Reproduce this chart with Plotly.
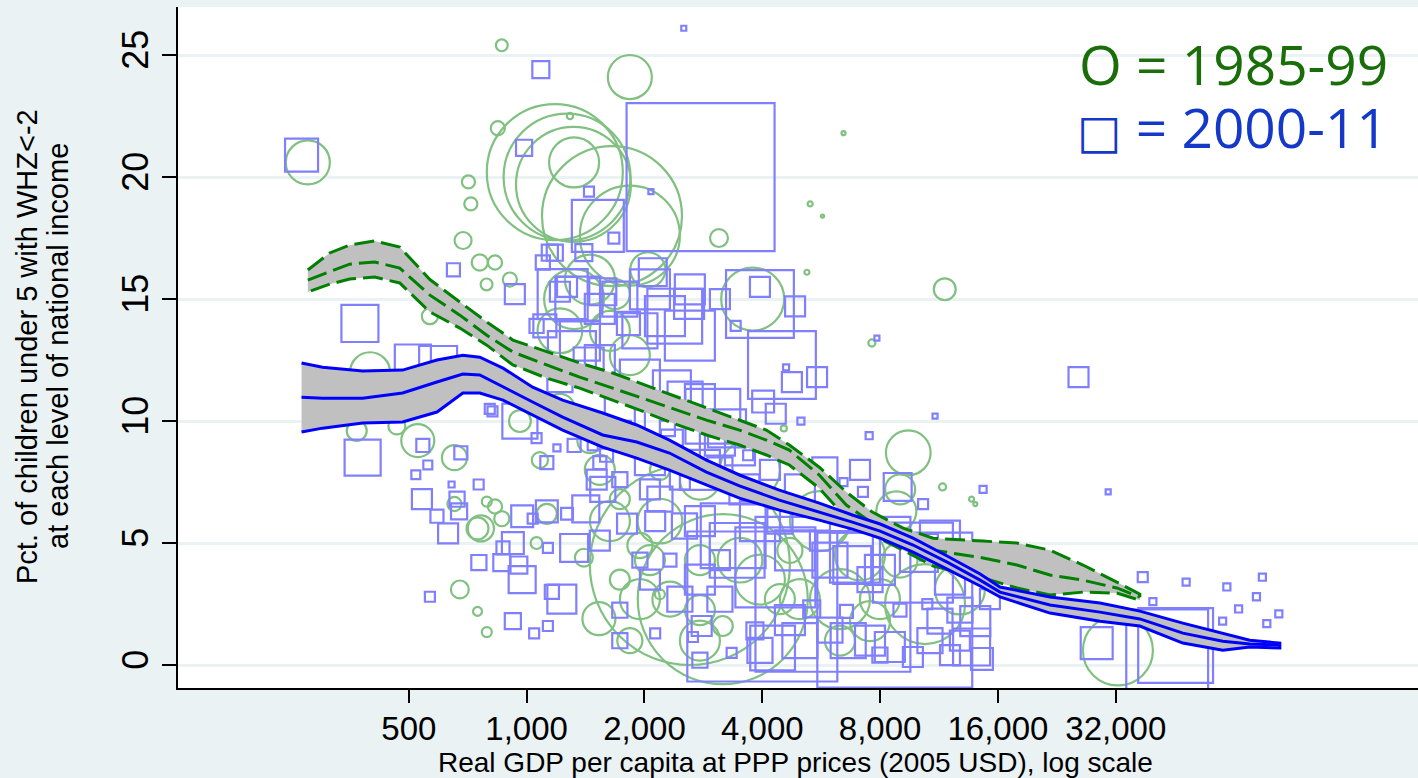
import math
import plotly.graph_objects as go

# ---------------- data ----------------
# 1985-99 surveys (circles): GDP per capita, pct wasted, population weight
c_gdp = [276, 864, 1835, 844, 1290, 710, 720, 688, 1180, 1268, 1317, 1322, 1652, 1835,
         3100, 5300, 5700, 6450, 11700, 3780, 5200, 7620, 9440, 4540, 759, 830, 790, 906,
         566, 398, 368, 466, 527, 654, 654, 749, 675, 749, 791, 791, 830, 864, 764, 1126,
         1060, 1400, 1530, 2612, 3170, 32400, 1322, 1216, 1451, 1632, 1835, 1216, 1451, 961,
         1081, 2190, 2771, 1947, 3719, 5614, 7106, 9000, 11550, 13700, 14000, 10420, 12790,
         2190, 3170, 2771, 3945, 4990, 6316, 7537, 2190, 2771, 1947, 1730, 4705, 2040, 1680,
         1538, 1730, 8800, 1632, 2065, 2323, 1835, 2771, 3507, 4436, 6316, 7990, 8988]
c_pct = [20.6, 25.4, 24.1, 22.0, 22.5, 19.8, 18.9, 17.4, 20.2, 20.0, 19.7, 20.6, 18.4, 17.6,
         17.5, 18.9, 18.4, 21.8, 15.4, 15.0, 16.1, 13.2, 8.7, 9.7, 16.5, 16.5, 15.6, 15.8,
         14.3, 12.0, 9.6, 9.8, 9.2, 8.5, 6.6, 5.6, 3.1, 2.2, 1.35, 6.7, 6.5, 6.0, 5.6, 6.2,
         5.0, 4.4, 1.9, 4.1, 2.7, 0.6, 15.0, 13.7, 15.8, 13.7, 12.7, 10.5, 9.2, 10.0,
         8.4, 5.9, 7.6, 2.7, 8.0, 5.9, 4.5, 7.2, 7.3, 6.8, 6.6, 2.5, 3.1,
         2.9, 1.6, 1.0, 3.5, 2.7, 2.7, 1.8, 8.0, 4.3, 4.9, 3.5, 4.7, 16.2, 15.2,
         8.0, 6.8, 6.3, 5.9, 4.3, 2.7, 1.0, 2.25, 4.3, 2.7, 1.0, 2.7, 4.3]
c_w = [19.4, 1.4, 19.4, 2.0, 0.4, 1.7, 1.7, 2.9, 185, 161, 132, 25, 196, 100,
       3.2, 0.25, 0.1, 0.16, 4.8, 39.7, 0.25, 0.5, 20, 0.36, 2.6, 2.0, 1.4, 2.0,
       2.6, 16, 4, 2.9, 10.9, 6.3, 2.0, 4.8, 3.2, 0.8, 1.0, 1.0, 2.0, 2.3, 6.8, 4,
       1.4, 3.2, 10.9, 400, 289, 49, 36, 20, 25, 16, 16, 9, 6.3, 4.8,
       2.6, 20, 16, 16, 36, 36, 25, 9, 0.5, 0.25, 0.16, 64, 25,
       1, 4, 16, 25, 16, 36, 16, 4, 9, 6.3, 4, 6.3, 12.3, 9,
       9, 4, 16, 16, 9, 12.3, 6.3, 9, 20, 9, 9, 16, 12.3]

# 2000-11 surveys (squares)
s_gdp = [266, 1087, 985, 1443, 2782, 1520, 1670, 2520, 2077, 650, 375, 512, 594, 381,
         543, 559, 521, 679, 540, 590, 664, 672, 630, 755, 566, 643, 754, 974, 1036, 1126,
         1268, 1416, 1565, 1510, 1805, 922, 870, 1133, 1322, 864, 955, 974, 922, 1045, 1133,
         1230, 1160, 4000, 8720, 6060, 43300, 45500, 28600, 37500, 48400, 39800, 61500,
         75800, 73200, 65900, 60000, 77800, 83500, 25700, 30600, 11050, 7500, 7850, 3945,
         4490, 3945, 4850, 3420, 5520, 4760, 4600, 4020, 4330, 5020, 933, 1100, 1146, 1216,
         1268, 1060, 1305, 818, 961, 1060, 1195, 1322, 1475, 1600, 1740, 1126, 1538, 1236,
         1350, 1538, 1730, 2065, 2256, 1947, 2612, 3117, 1368, 1538, 1216, 1947, 1730, 2190,
         2771, 2463, 3117, 2065, 2771, 3507, 2100, 2390, 2612, 2600, 2350, 2540, 2990, 3250,
         2350, 3680, 2065, 2130, 2530, 3370, 3450, 4320, 4850, 6900, 6790, 9700, 10050,
         13700, 14560, 8470, 9700, 7990, 6630, 4990, 4250, 3830, 2800, 2130, 3340, 5350,
         6560, 8990, 10560, 14660, 10300, 7230, 6450, 8870, 2323, 2660, 14000, 11375, 1820,
         1113, 1565, 1440, 1180, 1400, 805, 5614, 4436, 6316, 2771, 3117, 2065, 1730, 7537,
         11375, 12790,
         2190, 2463, 3117, 3600, 4184, 4990, 5780, 7106, 2771, 3945, 5955, 7990, 12066,
         12790, 15263, 3117, 2463, 4705, 5955, 7537, 10725, 12066, 3945, 2771, 1730, 1947,
         1538, 1730]
s_pct = [20.9, 24.4, 21.2, 19.4, 20.0, 18.0, 17.5, 26.1, 19.4, 16.2, 14.0, 12.4, 12.3, 8.5,
         9.0, 8.2, 7.8, 8.7, 6.8, 6.1, 6.8, 6.3, 5.4, 4.2, 2.8, 7.4, 7.4, 6.1, 6.0, 6.3,
         6.2, 6.4, 7.2, 7.6, 5.8, 5.0, 4.8, 4.8, 4.8, 4.2, 4.1, 3.5, 1.8, 1.3, 1.6,
         2.7, 3.0, 2.4, 2.25, 2.9, 0.6, 0.8, 0.9, 3.6, 3.4, 2.6, 3.2,
         3.6, 2.8, 2.3, 1.8, 1.7, 2.1, 11.8, 7.1, 10.2, 9.4, 13.4, 14.8,
         12.3, 15.5, 14.7, 13.9, 11.8, 11.6, 12.2, 10.8, 10.3, 10.0, 15.2, 16.5, 16.9, 15.3,
         15.5, 13.9, 12.7, 10.4, 10.0, 9.3, 8.9, 9.0, 9.0, 8.6, 9.6, 8.3, 8.3, 15.2,
         15.0, 14.6, 15.0, 15.4, 14.3, 13.7, 15.4, 15.0, 13.3, 12.5, 11.7, 11.7, 10.5, 10.0,
         10.9, 9.2, 9.2, 8.4, 8.0, 8.8, 16.1, 14.3, 13.5, 14.8, 11.3, 10.9, 10.2, 9.7,
         9.2, 8.6, 7.2, 5.9, 5.7, 5.3, 4.7, 4.0, 4.7, 4.4, 4.1, 4.2, 4.6,
         0.74, 0.25, 0.74, 0.33, 0.41, 1.0, 1.0, 0.7, 1.4, 1.6, 1.3, 0.5, 2.3,
         2.2, 2.25, 2.5, 7.2, 6.6, 7.1, 7.5, 7.3, 4.3, 1.15, 1.8, 5.1, 14.0,
         13.9, 15.3, 12.4, 16.9, 16.9, 10.5, 5.1, 5.9, 5.9, 3.5, 2.7, 3.5, 2.25, 3.5,
         1.8, 1.0,
         6.8, 7.6, 8.0, 7.2, 8.0, 7.2, 8.0, 8.0, 5.9, 5.9, 4.3, 3.9, 3.5,
         2.25, 2.7, 4.3, 2.7, 1.84, 1.43, 1.0, 1.0, 0.41, 0.6, 0.2, 1.0, 4.3,
         5.1, 7.6]
s_w = [10.9, 2.9, 2.6, 1.0, 219, 27, 1.2, 0.25, 0.25, 1.7, 13.7, 13, 14.4, 13,
       1.7, 0.8, 0.8, 1.7, 4, 1.7, 2.3, 2.6, 4, 2.3, 1, 0.36, 1, 4.8, 1, 4.8,
       1.4, 7.3, 6.3, 4, 4, 4.8, 1.7, 1, 7.8, 2.9, 2.9, 7.3, 2.6, 1, 1,
       8.4, 2.0, 225, 240, 240, 67, 56, 10.2, 1, 0.5, 0.5, 0.5,
       0.5, 0.5, 0.5, 0.5, 0.5, 0.5, 4, 0.25, 0.25, 0.5, 0.25, 46,
       46, 4, 4, 1, 4, 4, 0.36, 4.8, 4, 0.5, 4, 2.0, 2.6, 4,
       4, 2.0, 23, 1, 12.3, 1, 0.5, 1.7, 1, 1.7, 4, 1.7, 1.7, 25,
       20, 9, 12.3, 16, 16, 12.3, 9, 4, 16, 9, 6.3, 16, 9, 9,
       9, 16, 9, 9, 16, 9, 7.8, 30, 25, 9, 14.4, 12.3, 30, 14.4,
       4.8, 1, 4, 4, 6.3, 42, 30, 64, 16, 25, 14.4, 64, 14.4,
       13.7, 4.8, 9, 4, 2.3, 12.3, 12.3, 20, 2.9, 4, 1, 1, 2.9,
       1.7, 1.7, 1, 0.5, 1, 1, 0.64, 7.8, 1.7, 1, 9, 16, 5.3,
       5.3, 7.3, 9, 2.6, 2.9, 1, 4, 6.3, 4, 9, 6.3, 4, 2.3, 6.3,
       6.3, 4,
       6.3, 4, 6.3, 9, 4, 9, 6.3, 4, 9, 16, 12.3, 9, 9,
       6.3, 4, 4, 6.3, 9, 6.3, 9, 6.3, 4, 6.3, 2.3, 2.3, 2.3,
       4, 2.3]

# smoothed fits with confidence bands
g_x = [276, 314, 353, 409, 474, 566, 675, 791, 922, 1125, 1366, 1659, 1944, 2358, 2880,
       3497, 4095, 4690, 5593, 6557, 7640, 9160, 10930, 14660, 17890, 21730, 26380, 32190, 36860]
g_mid = [15.78, 16.11, 16.43, 16.52, 16.27, 15.16, 14.34, 13.52, 12.83, 12.30, 11.80, 11.35,
         10.98, 10.53, 10.04, 9.63, 9.22, 8.81, 7.79, 6.56, 5.82, 5.25, 4.71, 4.39, 4.10,
         3.69, 3.48, 3.16, 2.79]
g_hi = [16.19, 16.89, 17.21, 17.38, 17.13, 15.80, 14.88, 14.06, 13.32, 12.83, 12.38, 11.97,
        11.56, 11.07, 10.53, 10.04, 9.63, 9.02, 8.11, 7.09, 6.27, 5.61, 5.20, 5.08, 5.00,
        4.71, 4.10, 3.40, 2.91]
g_lo = [15.29, 15.61, 15.82, 15.90, 15.66, 14.47, 13.81, 13.11, 12.30, 11.76, 11.35, 10.86,
        10.45, 9.92, 9.43, 9.02, 8.61, 8.20, 7.25, 6.02, 5.33, 4.71, 4.06, 3.57, 3.16,
        2.87, 2.99, 2.95, 2.66]

b_x = [266, 301, 381, 482, 590, 687, 759, 870, 1036, 1236, 1564, 1911, 2317, 2880, 3497,
       4421, 5593, 6793, 8000, 9712, 11866, 14410, 16190, 21730, 29160, 36860, 47470, 60060,
       70400, 84000]
b_mid = [10.98, 10.94, 10.94, 11.15, 11.60, 11.93, 11.89, 11.39, 10.78, 10.16, 9.43, 9.14,
         8.69, 7.91, 7.34, 6.76, 6.27, 5.86, 5.49, 4.92, 4.22, 3.48, 2.99, 2.46, 2.17, 1.89,
         1.31, 0.98, 0.86, 0.82]
b_hi = [12.38, 12.21, 12.05, 12.09, 12.50, 12.70, 12.62, 12.17, 11.39, 10.86, 10.33, 9.84,
        9.22, 8.40, 7.79, 7.17, 6.64, 6.15, 5.78, 5.20, 4.47, 3.73, 3.20, 2.79, 2.54, 2.21,
        1.72, 1.31, 1.02, 0.90]
b_lo = [9.55, 9.71, 9.92, 9.96, 10.37, 11.15, 11.15, 10.86, 10.25, 9.63, 8.93, 8.48,
        7.99, 7.38, 6.84, 6.35, 5.94, 5.57, 5.20, 4.63, 3.93, 3.24, 2.79, 2.13, 1.80, 1.60,
        0.90, 0.61, 0.74, 0.70]

x_ticks = [500, 1000, 2000, 4000, 8000, 16000, 32000]
x_labels = ["500", "1,000", "2,000", "4,000", "8,000", "16,000", "32,000"]
y_ticks = [0, 5, 10, 15, 20, 25]

# ---------------- figure ----------------
BG = "#EAF2F3"
fig = go.Figure()

fig.add_trace(go.Scatter(
    x=c_gdp, y=c_pct, mode="markers", hoverinfo="skip",
    marker=dict(symbol="circle-open", size=c_w, sizemode="area", sizeref=0.02, opacity=1,
                color="rgb(128,192,128)", line=dict(width=2.2, color="rgb(128,192,128)"))))
fig.add_trace(go.Scatter(
    x=s_gdp, y=s_pct, mode="markers", hoverinfo="skip",
    marker=dict(symbol="square-open", size=s_w, sizemode="area", sizeref=0.02, opacity=1,
                color="rgb(128,128,255)", line=dict(width=2.2, color="rgb(128,128,255)"))))

GREEN = "#008000"
BLUE = "#0000FF"
DASH = "20px,7px"

fig.add_trace(go.Scatter(
    x=g_x + g_x[::-1], y=g_hi + g_lo[::-1], mode="lines", fill="toself",
    fillcolor="#C0C0C0", line=dict(color=GREEN, width=3, dash=DASH), hoverinfo="skip"))
fig.add_trace(go.Scatter(x=g_x, y=g_mid, mode="lines",
                         line=dict(color=GREEN, width=3, dash=DASH), hoverinfo="skip"))
fig.add_trace(go.Scatter(
    x=b_x + b_x[::-1], y=b_hi + b_lo[::-1], mode="lines", fill="toself",
    fillcolor="#C0C0C0", line=dict(color=BLUE, width=3), hoverinfo="skip"))
fig.add_trace(go.Scatter(x=b_x, y=b_mid, mode="lines",
                         line=dict(color=BLUE, width=3), hoverinfo="skip"))

REG = "Liberation Sans, Arial, sans-serif"

fig.update_layout(
    width=1418, height=778,
    margin=dict(l=178, r=0, t=7, b=90),
    paper_bgcolor=BG, plot_bgcolor="white", showlegend=False,
    xaxis=dict(type="log", range=[math.log10(128.6), math.log10(189350)],
               tickvals=x_ticks, ticktext=x_labels, ticks="outside", ticklen=13,
               tickwidth=1.5, tickcolor="black", showline=True, linecolor="black",
               linewidth=1.5, showgrid=False, zeroline=False, tickangle=0,
               automargin=False, ticklabelstandoff=-2,
               tickfont=dict(family=REG, size=33, color="black")),
    yaxis=dict(range=[-0.94, 26.97], tickvals=y_ticks, ticks="outside", ticklen=14,
               tickwidth=1.5, tickcolor="black", showline=True, linecolor="black",
               linewidth=1.5, showgrid=True, gridcolor=BG, gridwidth=2.5,
               zeroline=False, tickangle=-90, automargin=False,
               tickfont=dict(family=REG, size=36, color="black")),
)

fig.add_annotation(xref="paper", yref="paper", x=0.4976, y=-0.1087, showarrow=False,
                   xanchor="center", yanchor="middle",
                   text="Real GDP per capita at PPP prices (2005 USD), log scale",
                   font=dict(family=REG, size=28, color="black"))
fig.add_annotation(xref="paper", yref="paper", x=-0.1218, y=0.5022, showarrow=False,
                   xanchor="center", yanchor="middle", textangle=-90,
                   text="Pct. of children under 5 with WHZ<-2",
                   font=dict(family=REG, size=29, color="black"))
fig.add_annotation(xref="paper", yref="paper", x=-0.0968, y=0.5022, showarrow=False,
                   xanchor="center", yanchor="middle", textangle=-90,
                   text="at each level of national income",
                   font=dict(family=REG, size=29, color="black"))
fig.add_annotation(xref="paper", yref="paper", x=0.9774, y=0.9163, showarrow=False,
                   xanchor="right", yanchor="middle", text="O = 1985-99",
                   font=dict(family="Open Sans, Noto Sans, sans-serif", size=55, color="#1a6e0a"))
fig.add_annotation(xref="paper", yref="paper", x=0.9774, y=0.8238, showarrow=False,
                   xanchor="right", yanchor="middle",
                   text="<span style='font-size:47px'>□</span> = 2000-11",
                   font=dict(family="Open Sans, Noto Sans, DejaVu Sans, sans-serif", size=55,
                             color="#1438c8"))

fig.write_html("out.html", config={"displayModeBar": False},
               post_script="document.body.style.margin='0';"
                           "document.body.style.backgroundColor='#EAF2F3';")
